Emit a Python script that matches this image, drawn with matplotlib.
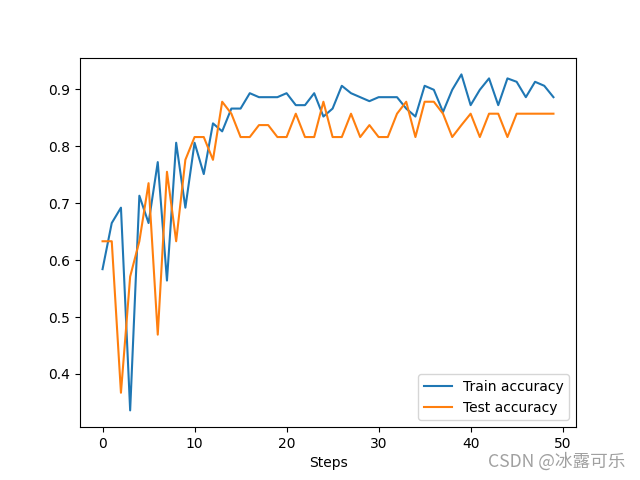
import numpy as np
import matplotlib.pyplot as plt

# accuracy per step
train_acc = [0.584, 0.665, 0.692, 0.336, 0.713, 0.665, 0.772, 0.564, 0.806, 0.692,
             0.806, 0.751, 0.840, 0.826, 0.866, 0.866, 0.893, 0.886, 0.886, 0.886,
             0.893, 0.872, 0.872, 0.893, 0.852, 0.866, 0.906, 0.893, 0.886, 0.879,
             0.886, 0.886, 0.886, 0.866, 0.852, 0.906, 0.899, 0.860, 0.899, 0.926,
             0.872, 0.899, 0.919, 0.872, 0.919, 0.913, 0.886, 0.913, 0.906, 0.886]
test_acc = [0.633, 0.633, 0.367, 0.571, 0.633, 0.735, 0.469, 0.755, 0.633, 0.776,
            0.816, 0.816, 0.776, 0.878, 0.857, 0.816, 0.816, 0.837, 0.837, 0.816,
            0.816, 0.857, 0.816, 0.816, 0.878, 0.816, 0.816, 0.857, 0.816, 0.837,
            0.816, 0.816, 0.857, 0.878, 0.816, 0.878, 0.878, 0.857, 0.816, 0.837,
            0.857, 0.816, 0.857, 0.857, 0.816, 0.857, 0.857, 0.857, 0.857, 0.857]
steps = np.arange(len(train_acc))

fig, ax = plt.subplots(figsize=(6.4, 4.8), dpi=100)
ax.plot(steps, train_acc, label='Train accuracy')
ax.plot(steps, test_acc, label='Test accuracy')
ax.set_xlabel('Steps')
ax.legend(loc='lower right')

# watermark
fig.text(0.762, 0.038, 'CSDN @冰露可乐', fontsize=12.7, color='#a0a0a0',
         family=['Noto Sans CJK SC', 'DejaVu Sans'], va='center', ha='left')

plt.savefig('out.png')
